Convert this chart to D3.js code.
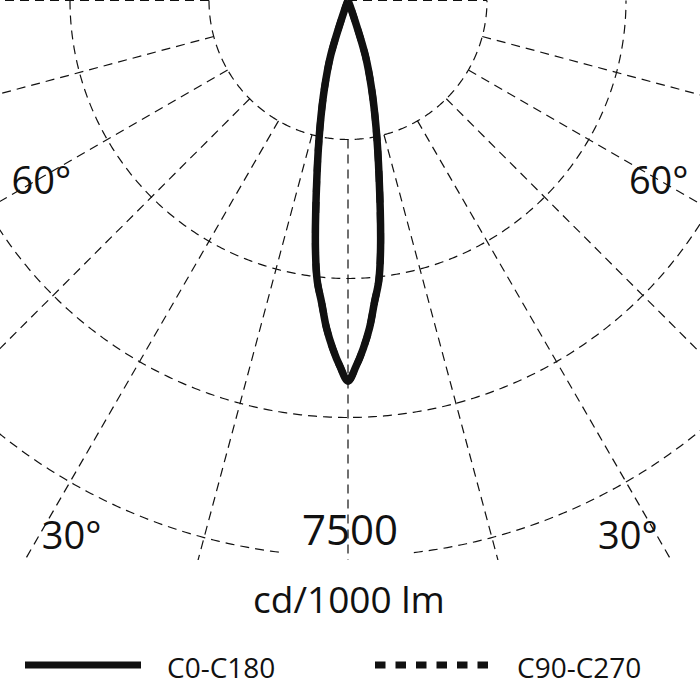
<!DOCTYPE html>
<html>
<head>
<meta charset="utf-8">
<script src="https://cdn.jsdelivr.net/npm/d3@7"></script>
<style>
  html, body { margin: 0; padding: 0; background: #fff; }
  svg { display: block; font-family: "Open Sans", sans-serif; }
</style>
</head>
<body>
<svg id="chart" width="700" height="700"></svg>
<script>
// gamma angles (deg, 0 = straight down) and intensities in cd/1000 lm
const angles = [-25, -22.5, -20, -17.5, -15, -12.5, -10, -7.5, -6.25, -5, -3.75, -2.5, -1.25, 0,
  1.25, 2.5, 3.75, 5, 6.25, 7.5, 10, 12.5, 15, 17.5, 20, 22.5, 25];
const c0c180 = [0, 20, 150, 774, 1227, 1745, 2416, 3365, 3808, 4089, 4430, 4701, 4938, 5133,
  4938, 4701, 4430, 4089, 3808, 3365, 2416, 1745, 1227, 774, 150, 20, 0];
const c90c270 = [0, 20, 150, 774, 1227, 1745, 2416, 3365, 3808, 4089, 4430, 4701, 4938, 5133,
  4938, 4701, 4430, 4089, 3808, 3365, 2416, 1745, 1227, 774, 150, 20, 0];

// grid
const ringValues = [1875, 3750, 5625, 7500];
const spokeAngles = [-90, -75, -60, -45, -30, -15, 0, 15, 30, 45, 60, 75, 90];
const angleLabels = [
  { text: "60°", angle: -59.5, value: 4800 },
  { text: "60°", angle: 59.8, value: 4850 },
  { text: "30°", angle: -27.3, value: 8130 },
  { text: "30°", angle: 27.6, value: 8150 }
];
const maxLabel = "7500";
const unitLabel = "cd/1000 lm";
const legendNames = ["C0-C180", "C90-C270"];

const cx = 348, cy = 0.5;
const svg = d3.select("#chart");

const r = d3.scaleLinear().domain([0, 7500]).range([0, 556]);

// gamma (deg) -> screen point
function pt(g, rad) {
  const a = g * Math.PI / 180;
  return [cx + rad * Math.sin(a), cy + rad * Math.cos(a)];
}
// radial line angle from gamma (d3 measures from 12 o'clock, clockwise)
const toRad = (g) => Math.PI - g * Math.PI / 180;

svg.append("defs").append("clipPath").attr("id", "plotClip")
  .append("rect").attr("x", 0).attr("y", 0).attr("width", 700).attr("height", 560);

const grid = svg.append("g")
  .attr("clip-path", "url(#plotClip)")
  .attr("fill", "none")
  .attr("stroke", "#111")
  .attr("stroke-width", 1.2)
  .attr("stroke-dasharray", "9,6");

// rings
const arcLine = d3.lineRadial().angle((d) => toRad(d[0])).radius((d) => d[1]);
ringValues.forEach((v, i) => {
  const last = i === ringValues.length - 1;
  // the outermost ring is left open under the 7500 label
  const spans = last ? [[-90, -6.8], [6.8, 90]] : [[-90, 90]];
  spans.forEach(([a0, a1]) => {
    const pts = d3.range(a0, a1 + 0.01, 0.5).map((g) => [g, r(v)]);
    grid.append("path")
      .attr("transform", `translate(${cx},${cy})`)
      .attr("d", arcLine(pts));
  });
});

// spokes
spokeAngles.forEach((g) => {
  let r0 = r(ringValues[0]), r1 = 900;
  if (g === 90) { r0 = 0; r1 = r(ringValues[0]); }
  const p0 = pt(g, r0), p1 = pt(g, r1);
  grid.append("line")
    .attr("x1", p0[0]).attr("y1", p0[1])
    .attr("x2", p1[0]).attr("y2", p1[1]);
});

// curves
const curve = d3.lineRadial()
  .angle((d) => toRad(d.angle))
  .radius((d) => r(d.value))
  .curve(d3.curveCatmullRom);

const toData = (vals) => angles.map((a, i) => ({ angle: a, value: vals[i] }));

svg.append("path")
  .attr("transform", `translate(${cx},${cy})`)
  .attr("d", curve(toData(c90c270)))
  .attr("fill", "none")
  .attr("stroke", "#111")
  .attr("stroke-width", 7)
  .attr("stroke-dasharray", "11,9.5");

svg.append("path")
  .attr("transform", `translate(${cx},${cy})`)
  .attr("d", curve(toData(c0c180)))
  .attr("fill", "none")
  .attr("stroke", "#111")
  .attr("stroke-width", 7.5)
  .attr("stroke-linejoin", "round");

// labels
svg.selectAll(".angle-label")
  .data(angleLabels)
  .join("text")
  .attr("class", "angle-label")
  .attr("x", (d) => pt(d.angle, r(d.value))[0])
  .attr("y", (d) => pt(d.angle, r(d.value))[1] + 13)
  .attr("text-anchor", "middle")
  .attr("font-size", 38)
  .attr("fill", "#111")
  .text((d) => d.text);

svg.append("text")
  .attr("x", 350).attr("y", 545)
  .attr("text-anchor", "middle")
  .attr("font-size", 42)
  .attr("fill", "#111")
  .text(maxLabel);

svg.append("text")
  .attr("x", 349).attr("y", 613)
  .attr("text-anchor", "middle")
  .attr("font-size", 37)
  .attr("fill", "#111")
  .text(unitLabel);

// legend
const legend = svg.append("g");
legend.append("line")
  .attr("x1", 25).attr("x2", 141).attr("y1", 665).attr("y2", 665)
  .attr("stroke", "#111").attr("stroke-width", 7);
legend.append("line")
  .attr("x1", 375).attr("x2", 490).attr("y1", 665).attr("y2", 665)
  .attr("stroke", "#111").attr("stroke-width", 7)
  .attr("stroke-dasharray", "10.5,10");
legend.selectAll(".legend-text")
  .data(legendNames)
  .join("text")
  .attr("class", "legend-text")
  .attr("x", (d, i) => (i === 0 ? 167 : 517))
  .attr("y", 678)
  .attr("font-size", 28)
  .attr("fill", "#111")
  .text((d) => d);
</script>
</body>
</html>
